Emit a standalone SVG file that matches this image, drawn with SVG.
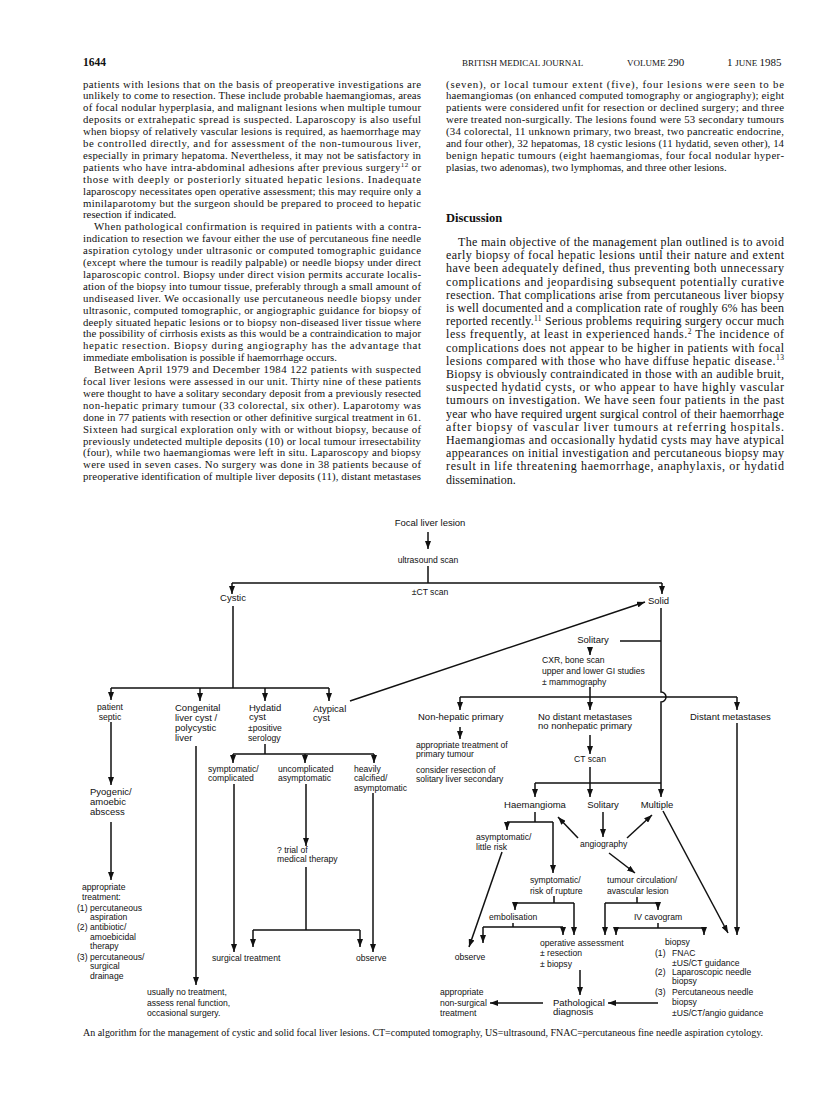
<svg xmlns="http://www.w3.org/2000/svg" width="816" height="1111" viewBox="0 0 816 1111">
<style>
.b{font-family:"Liberation Serif","Times New Roman",serif;font-size:10.8px;fill:#111}
.d{font-family:"Liberation Serif","Times New Roman",serif;font-size:12px;fill:#111}
.hd{font-family:"Liberation Serif","Times New Roman",serif;fill:#111}
.m{font-family:"Liberation Sans",Arial,sans-serif;font-size:9.5px;fill:#111}
.s{font-family:"Liberation Sans",Arial,sans-serif;font-size:8.6px;fill:#111}
.mid{text-anchor:middle}
.c path{fill:none;stroke:#111;stroke-width:1.5}
.c .a{marker-end:url(#ah)}
</style>
<defs>
<marker id="ah" viewBox="0 0 8 6" refX="8" refY="3" markerWidth="8" markerHeight="6" markerUnits="userSpaceOnUse" orient="auto"><path d="M0,0L8,3L0,6z" fill="#111"/></marker>
</defs>
<rect width="816" height="1111" fill="#fff"/>
<g id="header">
<text class="hd" x="83" y="66" font-size="11.5" font-weight="bold">1644</text>
<text class="hd" x="462" y="66" font-size="9">BRITISH MEDICAL JOURNAL</text>
<text class="hd" x="627" y="66"><tspan font-size="9">VOLUME </tspan><tspan font-size="11">290</tspan></text>
<text class="hd" x="727" y="66"><tspan font-size="11">1 </tspan><tspan font-size="9">JUNE </tspan><tspan font-size="11">1985</tspan></text>
</g>
<g id="text-left">
<text class="b" x="83" y="87.5" textLength="338" lengthAdjust="spacing">patients with lesions that on the basis of preoperative investigations are</text>
<text class="b" x="83" y="99.4" textLength="338" lengthAdjust="spacing">unlikely to come to resection. These include probable haemangiomas, areas</text>
<text class="b" x="83" y="111.3" textLength="338" lengthAdjust="spacing">of focal nodular hyperplasia, and malignant lesions when multiple tumour</text>
<text class="b" x="83" y="123.2" textLength="338" lengthAdjust="spacing">deposits or extrahepatic spread is suspected. Laparoscopy is also useful</text>
<text class="b" x="83" y="135.1" textLength="338" lengthAdjust="spacing">when biopsy of relatively vascular lesions is required, as haemorrhage may</text>
<text class="b" x="83" y="147" textLength="338" lengthAdjust="spacing">be controlled directly, and for assessment of the non-tumourous liver,</text>
<text class="b" x="83" y="158.9" textLength="338" lengthAdjust="spacing">especially in primary hepatoma. Nevertheless, it may not be satisfactory in</text>
<text class="b" x="83" y="170.8" textLength="338" lengthAdjust="spacing">patients who have intra-abdominal adhesions after previous surgery<tspan dy="-4" font-size="7">12</tspan><tspan dy="4"> or</tspan></text>
<text class="b" x="83" y="182.7" textLength="338" lengthAdjust="spacing">those with deeply or posteriorly situated hepatic lesions. Inadequate</text>
<text class="b" x="83" y="194.6" textLength="338" lengthAdjust="spacing">laparoscopy necessitates open operative assessment; this may require only a</text>
<text class="b" x="83" y="206.5" textLength="338" lengthAdjust="spacing">minilaparotomy but the surgeon should be prepared to proceed to hepatic</text>
<text class="b" x="83" y="218.4">resection if indicated.</text>
<text class="b" x="94" y="230.3" textLength="327" lengthAdjust="spacing">When pathological confirmation is required in patients with a contra-</text>
<text class="b" x="83" y="242.2" textLength="338" lengthAdjust="spacing">indication to resection we favour either the use of percutaneous fine needle</text>
<text class="b" x="83" y="254.1" textLength="338" lengthAdjust="spacing">aspiration cytology under ultrasonic or computed tomographic guidance</text>
<text class="b" x="83" y="266" textLength="338" lengthAdjust="spacing">(except where the tumour is readily palpable) or needle biopsy under direct</text>
<text class="b" x="83" y="277.9" textLength="338" lengthAdjust="spacing">laparoscopic control. Biopsy under direct vision permits accurate localis-</text>
<text class="b" x="83" y="289.8" textLength="338" lengthAdjust="spacing">ation of the biopsy into tumour tissue, preferably through a small amount of</text>
<text class="b" x="83" y="301.7" textLength="338" lengthAdjust="spacing">undiseased liver. We occasionally use percutaneous needle biopsy under</text>
<text class="b" x="83" y="313.6" textLength="338" lengthAdjust="spacing">ultrasonic, computed tomographic, or angiographic guidance for biopsy of</text>
<text class="b" x="83" y="325.5" textLength="338" lengthAdjust="spacing">deeply situated hepatic lesions or to biopsy non-diseased liver tissue where</text>
<text class="b" x="83" y="337.4" textLength="338" lengthAdjust="spacing">the possibility of cirrhosis exists as this would be a contraindication to major</text>
<text class="b" x="83" y="349.3" textLength="338" lengthAdjust="spacing">hepatic resection. Biopsy during angiography has the advantage that</text>
<text class="b" x="83" y="361.2">immediate embolisation is possible if haemorrhage occurs.</text>
<text class="b" x="94" y="373.1" textLength="327" lengthAdjust="spacing">Between April 1979 and December 1984 122 patients with suspected</text>
<text class="b" x="83" y="385" textLength="338" lengthAdjust="spacing">focal liver lesions were assessed in our unit. Thirty nine of these patients</text>
<text class="b" x="83" y="396.9" textLength="338" lengthAdjust="spacing">were thought to have a solitary secondary deposit from a previously resected</text>
<text class="b" x="83" y="408.8" textLength="338" lengthAdjust="spacing">non-hepatic primary tumour (33 colorectal, six other). Laparotomy was</text>
<text class="b" x="83" y="420.7" textLength="338" lengthAdjust="spacing">done in 77 patients with resection or other definitive surgical treatment in 61.</text>
<text class="b" x="83" y="432.6" textLength="338" lengthAdjust="spacing">Sixteen had surgical exploration only with or without biopsy, because of</text>
<text class="b" x="83" y="444.5" textLength="338" lengthAdjust="spacing">previously undetected multiple deposits (10) or local tumour irresectability</text>
<text class="b" x="83" y="456.4" textLength="338" lengthAdjust="spacing">(four), while two haemangiomas were left in situ. Laparoscopy and biopsy</text>
<text class="b" x="83" y="468.3" textLength="338" lengthAdjust="spacing">were used in seven cases. No surgery was done in 38 patients because of</text>
<text class="b" x="83" y="480.2" textLength="338" lengthAdjust="spacing">preoperative identification of multiple liver deposits (11), distant metastases</text>
</g>
<g id="text-right">
<text class="b" x="446" y="87.5" textLength="338" lengthAdjust="spacing">(seven), or local tumour extent (five), four lesions were seen to be</text>
<text class="b" x="446" y="99.4" textLength="338" lengthAdjust="spacing">haemangiomas (on enhanced computed tomography or angiography); eight</text>
<text class="b" x="446" y="111.3" textLength="338" lengthAdjust="spacing">patients were considered unfit for resection or declined surgery; and three</text>
<text class="b" x="446" y="123.2" textLength="338" lengthAdjust="spacing">were treated non-surgically. The lesions found were 53 secondary tumours</text>
<text class="b" x="446" y="135.1" textLength="338" lengthAdjust="spacing">(34 colorectal, 11 unknown primary, two breast, two pancreatic endocrine,</text>
<text class="b" x="446" y="147" textLength="338" lengthAdjust="spacing">and four other), 32 hepatomas, 18 cystic lesions (11 hydatid, seven other), 14</text>
<text class="b" x="446" y="158.9" textLength="338" lengthAdjust="spacing">benign hepatic tumours (eight haemangiomas, four focal nodular hyper-</text>
<text class="b" x="446" y="170.8">plasias, two adenomas), two lymphomas, and three other lesions.</text>
<text class="hd" x="446" y="222" font-size="12.5" font-weight="bold">Discussion</text>
<text class="d" x="458" y="245.9" textLength="326" lengthAdjust="spacing">The main objective of the management plan outlined is to avoid</text>
<text class="d" x="446" y="259.1" textLength="338" lengthAdjust="spacing">early biopsy of focal hepatic lesions until their nature and extent</text>
<text class="d" x="446" y="272.3" textLength="338" lengthAdjust="spacing">have been adequately defined, thus preventing both unnecessary</text>
<text class="d" x="446" y="285.5" textLength="338" lengthAdjust="spacing">complications and jeopardising subsequent potentially curative</text>
<text class="d" x="446" y="298.7" textLength="338" lengthAdjust="spacing">resection. That complications arise from percutaneous liver biopsy</text>
<text class="d" x="446" y="311.9" textLength="338" lengthAdjust="spacing">is well documented and a complication rate of roughly 6% has been</text>
<text class="d" x="446" y="325.1" textLength="338" lengthAdjust="spacing">reported recently.<tspan dy="-4.5" font-size="7.5">11</tspan><tspan dy="4.5"> Serious problems requiring surgery occur much</tspan></text>
<text class="d" x="446" y="338.3" textLength="338" lengthAdjust="spacing">less frequently, at least in experienced hands.<tspan dy="-4.5" font-size="7.5">2</tspan><tspan dy="4.5"> The incidence of</tspan></text>
<text class="d" x="446" y="351.5" textLength="338" lengthAdjust="spacing">complications does not appear to be higher in patients with focal</text>
<text class="d" x="446" y="364.7" textLength="338" lengthAdjust="spacing">lesions compared with those who have diffuse hepatic disease.<tspan dy="-4.5" font-size="7.5">13</tspan></text>
<text class="d" x="446" y="377.9" textLength="338" lengthAdjust="spacing">Biopsy is obviously contraindicated in those with an audible bruit,</text>
<text class="d" x="446" y="391.1" textLength="338" lengthAdjust="spacing">suspected hydatid cysts, or who appear to have highly vascular</text>
<text class="d" x="446" y="404.3" textLength="338" lengthAdjust="spacing">tumours on investigation. We have seen four patients in the past</text>
<text class="d" x="446" y="417.5" textLength="338" lengthAdjust="spacing">year who have required urgent surgical control of their haemorrhage</text>
<text class="d" x="446" y="430.7" textLength="338" lengthAdjust="spacing">after biopsy of vascular liver tumours at referring hospitals.</text>
<text class="d" x="446" y="443.9" textLength="338" lengthAdjust="spacing">Haemangiomas and occasionally hydatid cysts may have atypical</text>
<text class="d" x="446" y="457.1" textLength="338" lengthAdjust="spacing">appearances on initial investigation and percutaneous biopsy may</text>
<text class="d" x="446" y="470.3" textLength="338" lengthAdjust="spacing">result in life threatening haemorrhage, anaphylaxis, or hydatid</text>
<text class="d" x="446" y="483.5">dissemination.</text>
</g>
<g id="connectors" class="c">
<path class="a" d="M428,532V549"/>
<path d="M428,566V583M232,583H662"/>
<path class="a" d="M232,583V594"/>
<path class="a" d="M662,583V594"/>
<path d="M233,606V688M111,688H329"/>
<path class="a" d="M111,688V700"/>
<path class="a" d="M200,688V701"/>
<path class="a" d="M265,688V701"/>
<path class="a" d="M329,688V701"/>
<path class="a" d="M350,701L645,602"/>
<path class="a" d="M111,722V785"/>
<path class="a" d="M111,822V880"/>
<path class="a" d="M196,746V985"/>
<path d="M265,744V754M233,754H374"/>
<path class="a" d="M233,754V763"/>
<path class="a" d="M305,754V763"/>
<path class="a" d="M374,754V763"/>
<path class="a" d="M234,784V952"/>
<path class="a" d="M306,784V846"/>
<path d="M306,867V930M253,930H360"/>
<path class="a" d="M253,930V947"/>
<path class="a" d="M360,930V947"/>
<path class="a" d="M373,793V952"/>
<path d="M661,608V692A5,5 0 0 1 661,702V783"/>
<path d="M620,641H661"/>
<path class="a" d="M590,647V655"/>
<path d="M590,687V697M460,697H737"/>
<path class="a" d="M460,697V710"/>
<path class="a" d="M590,697V710"/>
<path class="a" d="M737,697V710"/>
<path class="a" d="M460,727V739"/>
<path class="a" d="M590,735V754"/>
<path d="M590,767V783M535,783H661"/>
<path class="a" d="M535,783V797"/>
<path class="a" d="M590,783V797"/>
<path class="a" d="M661,783V797"/>
<path class="a" d="M737,723V935"/>
<path d="M535,812V822M507,822H553"/>
<path class="a" d="M507,822V830"/>
<path class="a" d="M553,822V873"/>
<path class="a" d="M502,852L469,947"/>
<path class="a" d="M603,812V837"/>
<path class="a" d="M578,838L558,817"/>
<path class="a" d="M627,838L652,815"/>
<path class="a" d="M609,853L635,873"/>
<path class="a" d="M663,811L728,933"/>
<path d="M554,896V903M515,903H574"/>
<path class="a" d="M515,903V910"/>
<path class="a" d="M574,903V935"/>
<path d="M513,923V927M483,927H563"/>
<path class="a" d="M483,927V943"/>
<path class="a" d="M563,927V935"/>
<path d="M637,897V903M605,903H658"/>
<path class="a" d="M658,903V910"/>
<path class="a" d="M605,903V935"/>
<path d="M658,923V928M616,928H704"/>
<path class="a" d="M616,928V935"/>
<path class="a" d="M704,928V935"/>
<path class="a" d="M580,970V995"/>
<path class="a" d="M543,1003H490"/>
<path class="a" d="M658,1003H608"/>
</g>
<g id="n-focal"><text class="m mid" x="430" y="526">Focal liver lesion</text></g>
<g id="n-us"><text class="s mid" x="428" y="563">ultrasound scan</text></g>
<g id="n-ct"><text class="s mid" x="430" y="595">±CT scan</text></g>
<g id="n-cystic"><text class="m mid" x="233" y="601">Cystic</text></g>
<g id="n-solid"><text class="m" x="648" y="604">Solid</text></g>
<g id="n-septic"><text class="s mid" x="110" y="709.5">patient</text><text class="s mid" x="110" y="719.5">septic</text></g>
<g id="n-congenital"><text class="m" x="175" y="710.5">Congenital</text><text class="m" x="175" y="720.5">liver cyst /</text><text class="m" x="175" y="730.5">polycystic</text><text class="m" x="175" y="740.5">liver</text></g>
<g id="n-hydatid"><text class="m" x="249" y="710.5">Hydatid</text><text class="m" x="249" y="720">cyst</text><text class="s" x="248" y="731">±positive</text><text class="s" x="248" y="740.5">serology</text></g>
<g id="n-atypical"><text class="m" x="313" y="712">Atypical</text><text class="m" x="313" y="721">cyst</text></g>
<g id="n-pyogenic"><text class="m" x="90" y="795">Pyogenic/</text><text class="m" x="90" y="805">amoebic</text><text class="m" x="90" y="815">abscess</text></g>
<g id="n-approp1"><text class="s" x="82" y="889.5">appropriate</text><text class="s" x="82" y="899.5">treatment:</text>
<text class="s" x="77" y="911">(1)</text><text class="s" x="90" y="911">percutaneous</text><text class="s" x="90" y="920">aspiration</text>
<text class="s" x="77" y="930">(2)</text><text class="s" x="90" y="930">antibiotic/</text><text class="s" x="90" y="939.5">amoebicidal</text><text class="s" x="90" y="949">therapy</text>
<text class="s" x="77" y="959.5">(3)</text><text class="s" x="90" y="959.5">percutaneous/</text><text class="s" x="90" y="969">surgical</text><text class="s" x="90" y="979">drainage</text></g>
<g id="n-usually"><text class="s" x="147" y="994.5">usually no treatment,</text><text class="s" x="147" y="1006">assess renal function,</text><text class="s" x="147" y="1016">occasional surgery.</text></g>
<g id="n-sympt1"><text class="s" x="208" y="772">symptomatic/</text><text class="s" x="208" y="781">complicated</text></g>
<g id="n-uncompl"><text class="s" x="278" y="772">uncomplicated</text><text class="s" x="278" y="781">asymptomatic</text></g>
<g id="n-calcified"><text class="s" x="354" y="772">heavily</text><text class="s" x="354" y="781">calcified/</text><text class="s" x="354" y="790.5">asymptomatic</text></g>
<g id="n-trial"><text class="s" x="277" y="853">? trial of</text><text class="s" x="277" y="862">medical therapy</text></g>
<g id="n-surgical"><text class="s" x="212" y="961">surgical treatment</text></g>
<g id="n-observe1"><text class="s" x="356" y="961">observe</text></g>
<g id="n-solitary1"><text class="m mid" x="593" y="643">Solitary</text></g>
<g id="n-cxr"><text class="s" x="542" y="663">CXR, bone scan</text><text class="s" x="542" y="673.5">upper and lower GI studies</text><text class="s" x="542" y="684.5">± mammography</text></g>
<g id="n-nonhep"><text class="m" x="418" y="720">Non-hepatic primary</text></g>
<g id="n-nodistant"><text class="m" x="538" y="719.5">No distant metastases</text><text class="m" x="538" y="729">no nonhepatic primary</text></g>
<g id="n-distant"><text class="m" x="690" y="720">Distant metastases</text></g>
<g id="n-approp2"><text class="s" x="416" y="747.5">appropriate treatment of</text><text class="s" x="416" y="756.5">primary tumour</text><text class="s" x="416" y="773">consider resection of</text><text class="s" x="416" y="782">solitary liver secondary</text></g>
<g id="n-ctscan"><text class="s mid" x="590" y="762">CT scan</text></g>
<g id="n-haem"><text class="m mid" x="535" y="807.5">Haemangioma</text></g>
<g id="n-solitary2"><text class="m mid" x="603" y="807.5">Solitary</text></g>
<g id="n-multiple"><text class="m mid" x="657" y="807.5">Multiple</text></g>
<g id="n-asympt"><text class="s" x="476" y="839.5">asymptomatic/</text><text class="s" x="476" y="850">little risk</text></g>
<g id="n-angio"><text class="s" x="580" y="847">angiography</text></g>
<g id="n-sympt2"><text class="s" x="530" y="883">symptomatic/</text><text class="s" x="530" y="893.5">risk of rupture</text></g>
<g id="n-tumcirc"><text class="s" x="607" y="883">tumour circulation/</text><text class="s" x="607" y="893.5">avascular lesion</text></g>
<g id="n-embol"><text class="s" x="489" y="919.5">embolisation</text></g>
<g id="n-ivc"><text class="s mid" x="658" y="919.5">IV cavogram</text></g>
<g id="n-observe2"><text class="s mid" x="470" y="960">observe</text></g>
<g id="n-operative"><text class="s" x="540" y="945.5">operative assessment</text><text class="s" x="540" y="956">± resection</text><text class="s" x="540" y="967">± biopsy</text></g>
<g id="n-biopsy"><text class="s" x="665" y="944.5">biopsy</text>
<text class="s" x="655" y="955.5">(1)</text><text class="s" x="672" y="955.5">FNAC</text><text class="s" x="672" y="965.5">±US/CT guidance</text>
<text class="s" x="655" y="974.5">(2)</text><text class="s" x="672" y="974.5">Laparoscopic needle</text><text class="s" x="672" y="983.5">biopsy</text>
<text class="s" x="655" y="994.5">(3)</text><text class="s" x="672" y="994.5">Percutaneous needle</text><text class="s" x="672" y="1004.5">biopsy</text><text class="s" x="672" y="1015.5">±US/CT/angio guidance</text></g>
<g id="n-approp3"><text class="s" x="440" y="994.5">appropriate</text><text class="s" x="440" y="1005.5">non-surgical</text><text class="s" x="440" y="1016">treatment</text></g>
<g id="n-path"><text class="m" x="553" y="1006">Pathological</text><text class="m" x="553" y="1015">diagnosis</text></g>
<g id="caption"><text class="hd" x="83" y="1036" font-size="10" textLength="680" lengthAdjust="spacing">An algorithm for the management of cystic and solid focal liver lesions. CT=computed tomography, US=ultrasound, FNAC=percutaneous fine needle aspiration cytology.</text></g>
</svg>
